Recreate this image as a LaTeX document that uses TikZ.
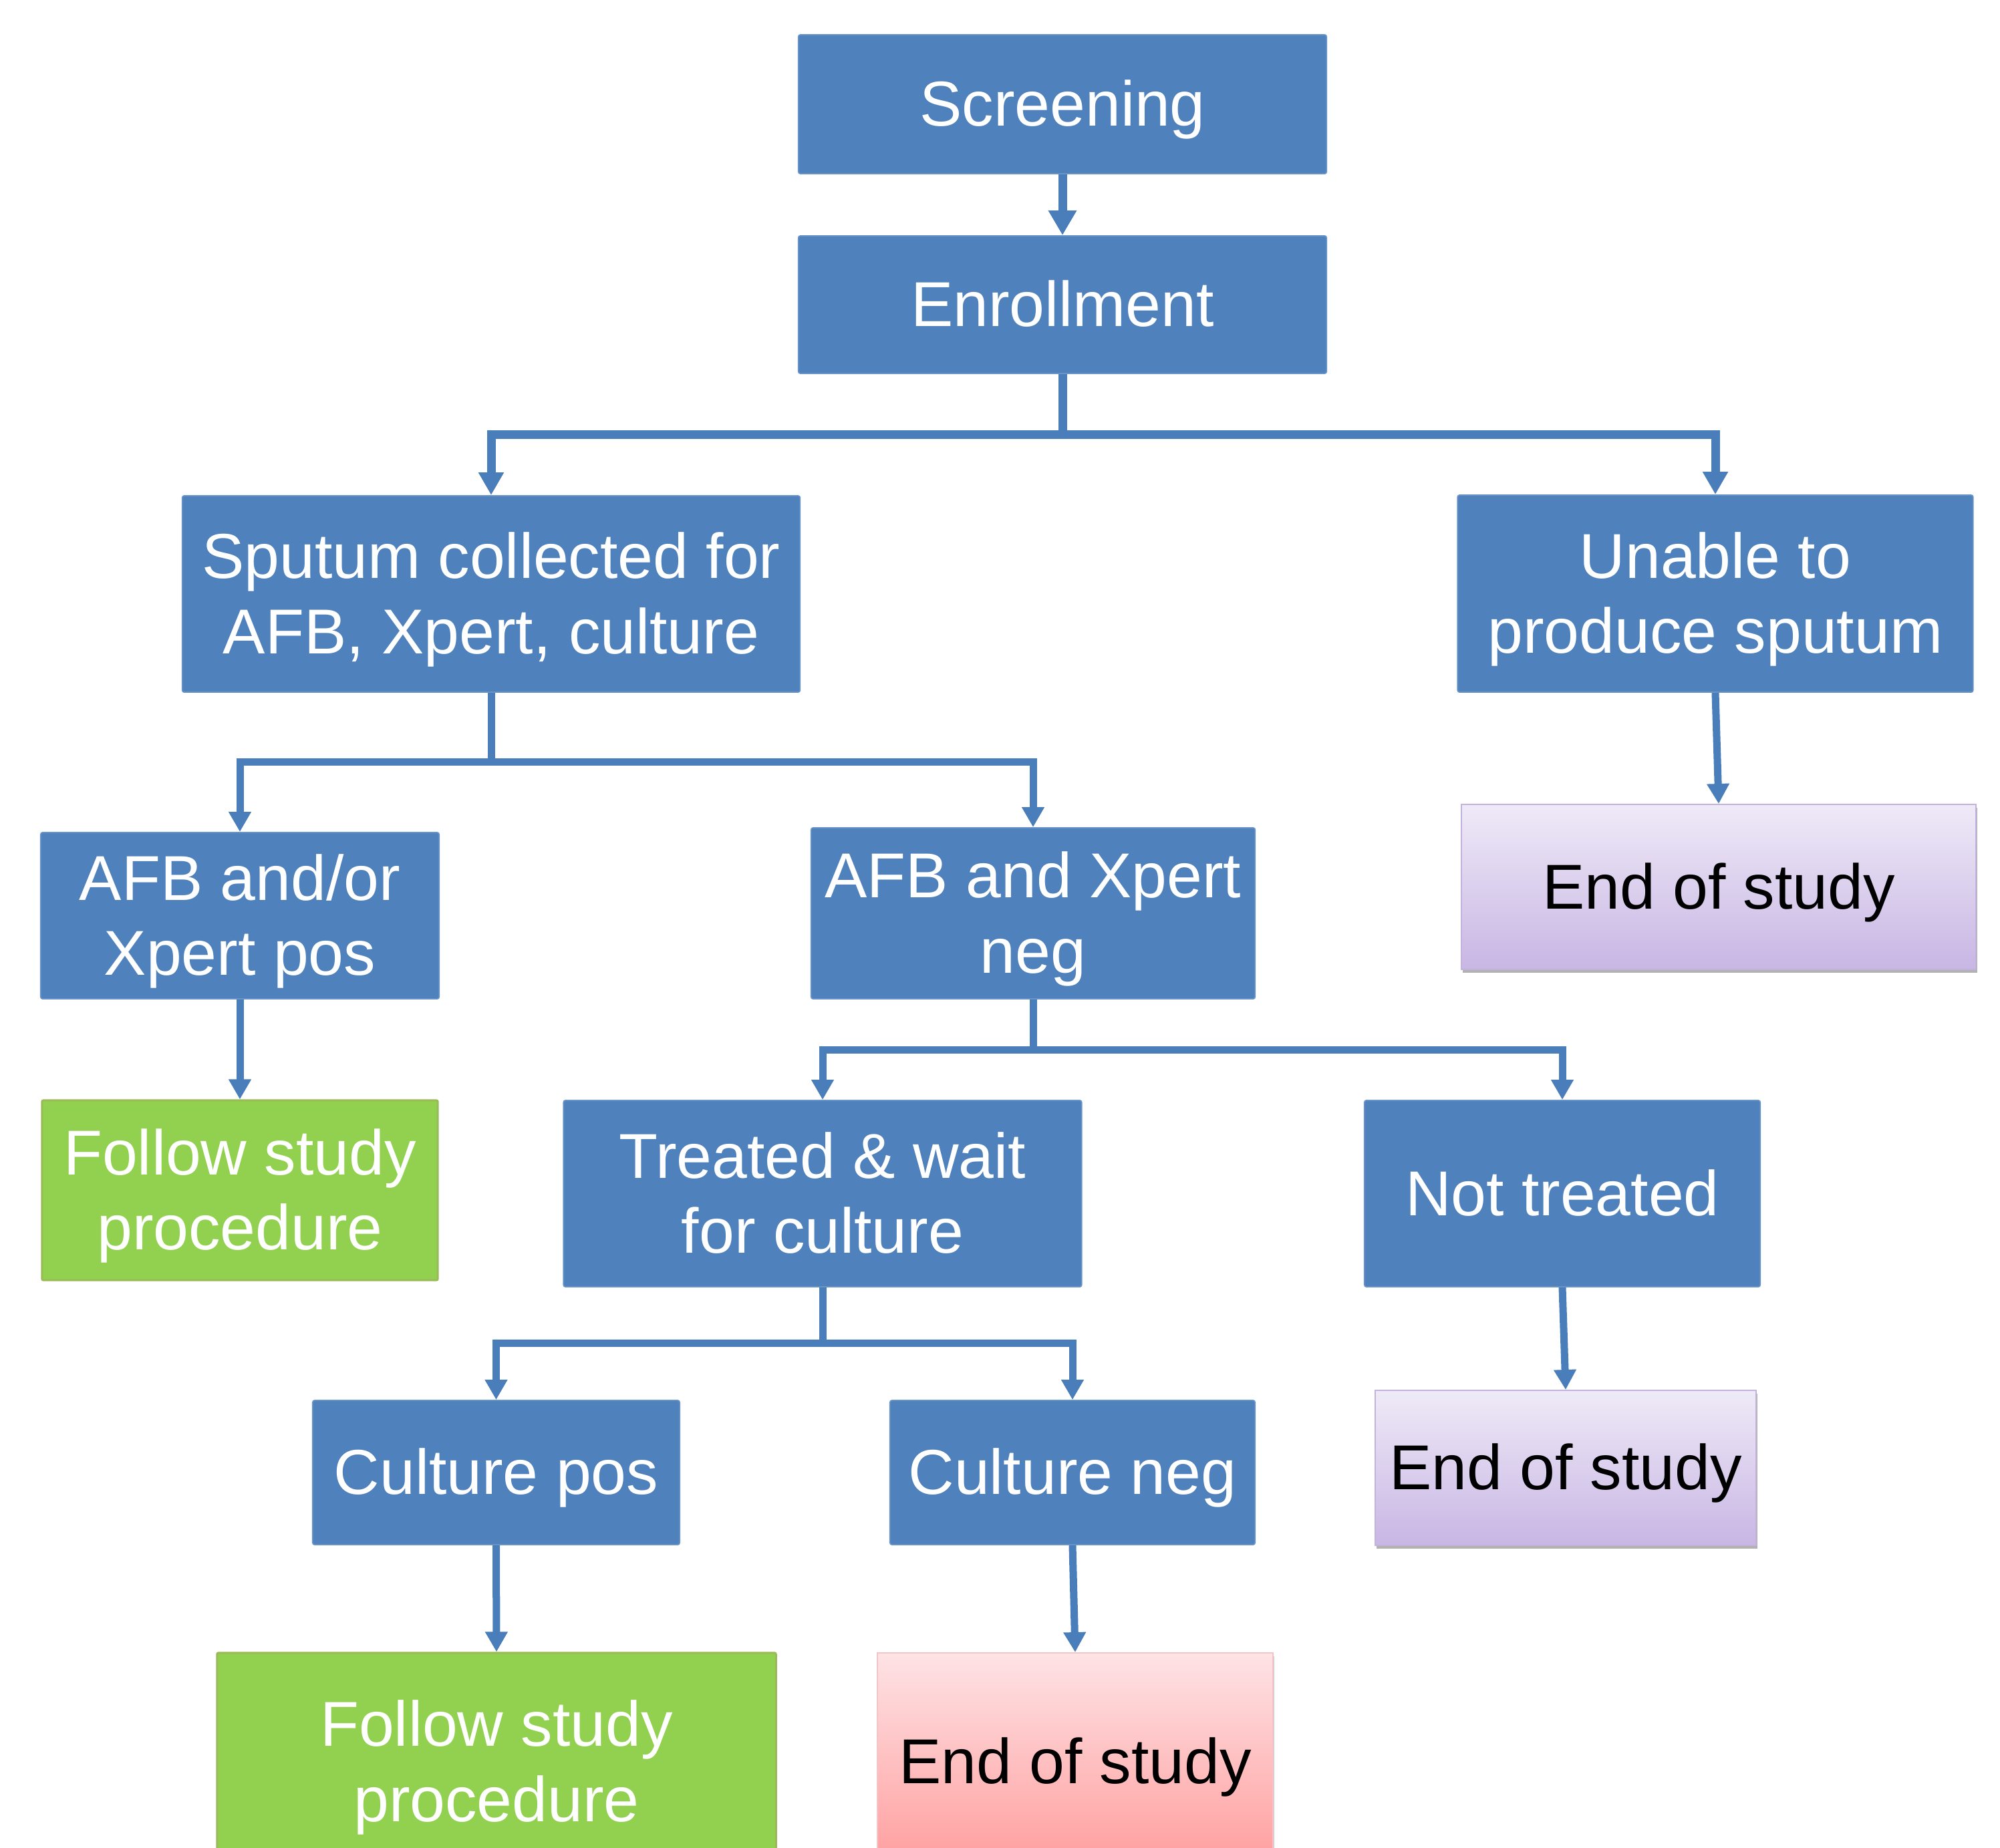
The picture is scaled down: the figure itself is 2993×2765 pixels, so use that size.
\documentclass[tikz,border=0pt]{standalone}
\usepackage{fontspec}
\setmainfont{Liberation Sans}
\usetikzlibrary{arrows.meta,shadows}
\definecolor{bfill}{HTML}{4F81BD}
\definecolor{bline}{HTML}{4A7EBB}
\definecolor{gfill}{HTML}{92D050}
\definecolor{gline}{HTML}{9BBB59}
\definecolor{ltop}{HTML}{EFEAF7}
\definecolor{lbot}{HTML}{C8B6E4}
\definecolor{lline}{HTML}{C3B3DC}
\definecolor{ptop}{HTML}{FEE3E5}
\definecolor{pbot}{HTML}{FF9C9C}
\definecolor{pline}{HTML}{F2C6C8}
\begin{document}
\begin{tikzpicture}[x=0.01cm,y=-0.01cm,
 base/.style={inner sep=0pt, align=center, font=\fontsize{27}{32}\selectfont},
 one/.style={text height=24.4pt, text depth=5.7pt},
 two/.style={text height=56.4pt, text depth=5.7pt},
 bluebox/.style={base, fill=bfill, draw=bfill!85!white, line width=0.5pt, text=white, rounded corners=0.03cm},
 greenbox/.style={base, fill=gfill, draw=gline, line width=0.03cm, text=white, rounded corners=0.02cm},
 lavbox/.style={base, top color=ltop, bottom color=lbot, draw=lline, line width=0.5pt, text=black,
   drop shadow={shadow xshift=0.02cm, shadow yshift=-0.05cm, fill=black, opacity=0.3}},
 pinkbox/.style={base, top color=ptop, bottom color=pbot, draw=pline, line width=0.5pt, text=black,
   drop shadow={shadow xshift=0.02cm, shadow yshift=-0.05cm, fill=black, opacity=0.2}},
 conn/.style={draw=bline, line width=0.11cm},
 arr/.style={conn, -{Triangle[width=0.32cm,length=0.30cm]}},
 bigarr/.style={draw=bline, line width=0.13cm, -{Triangle[width=0.40cm,length=0.37cm]}},
]
\useasboundingbox (0,0) rectangle (2993,2765);
\fill[white] (0,0) rectangle (2993,2765);
\clip (0,0) rectangle (2993,2765);

\node[bluebox, one, minimum width=7.90cm, minimum height=2.08cm] (scr) at (1590,156) {Screening};
\node[bluebox, one, minimum width=7.90cm, minimum height=2.06cm] (enr) at (1590,456) {Enrollment};
\node[bluebox, two, minimum width=9.24cm, minimum height=2.94cm] (spu) at (735,889) {Sputum collected for\\AFB, Xpert, culture};
\node[bluebox, two, minimum width=7.71cm, minimum height=2.95cm] (una) at (2567,888.5) {Unable to\\produce sputum};
\node[bluebox, two, minimum width=5.96cm, minimum height=2.49cm] (pos) at (359,1370.5) {AFB and/or\\Xpert pos};
\node[bluebox, two, minimum width=6.64cm, minimum height=2.56cm] (neg) at (1546,1367) {AFB and Xpert\\neg};
\node[lavbox, one, minimum width=7.70cm, minimum height=2.47cm] (end1) at (2572,1327.5) {End of study};
\node[greenbox, two, minimum width=5.92cm, minimum height=2.69cm] (fol1) at (359,1781.5) {Follow study\\procedure};
\node[bluebox, two, minimum width=7.75cm, minimum height=2.79cm] (trt) at (1231,1786.5) {Treated \& wait\\for culture};
\node[bluebox, one, minimum width=5.92cm, minimum height=2.79cm] (ntr) at (2338,1786.5) {Not treated};
\node[bluebox, one, minimum width=5.49cm, minimum height=2.16cm] (cpos) at (742.5,2204) {Culture pos};
\node[bluebox, one, minimum width=5.46cm, minimum height=2.16cm] (cneg) at (1605,2204) {Culture neg};
\node[lavbox, one, minimum width=5.70cm, minimum height=2.32cm] (end2) at (2343,2197) {End of study};
\node[greenbox, two, minimum width=8.36cm, minimum height=3.26cm] (fol2) at (743,2637) {Follow study\\procedure};
\node[pinkbox, one, minimum width=5.92cm, minimum height=3.26cm] (end3) at (1609,2637) {End of study};

\coordinate (j1) at (1590,650);
\coordinate (j2) at (735,1140);
\coordinate (j3) at (1546,1571);
\coordinate (j4) at (1231,2010);

\draw[bigarr] (scr.south) -- (enr.north);
\draw[conn, line width=0.13cm] (enr.south) -- (j1);
\draw[bigarr, -{Triangle[width=0.36cm,length=0.34cm]}] (j1) -| (spu.north);
\draw[bigarr, -{Triangle[width=0.36cm,length=0.34cm]}] (j1) -| (una.north);
\draw[conn] (spu.south) -- (j2);
\draw[arr] (j2) -| (pos.north);
\draw[arr] (j2) -| (neg.north);
\draw[arr] (una.south) -- (end1.north);
\draw[arr] (pos.south) -- (fol1.north);
\draw[conn] (neg.south) -- (j3);
\draw[arr] (j3) -| (trt.north);
\draw[arr] (j3) -| (ntr.north);
\draw[conn] (trt.south) -- (j4);
\draw[arr] (j4) -| (cpos.north);
\draw[arr] (j4) -| (cneg.north);
\draw[arr] (ntr.south) -- (end2.north);
\draw[arr] (cpos.south) -- (fol2.north);
\draw[arr] (cneg.south) -- (end3.north);
\end{tikzpicture}
\end{document}
